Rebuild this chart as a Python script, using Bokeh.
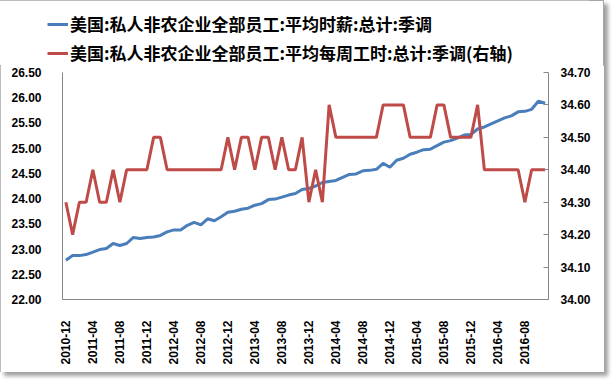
import math
from bokeh.plotting import figure
from bokeh.layouts import column
from bokeh.models import (Range1d, LinearAxis, FixedTicker,
                          NumeralTickFormatter, Legend, LegendItem)
from bokeh.embed import file_html
from bokeh.resources import INLINE

# ---------------- data ----------------
MONTHS = [f"{y}-{m:02d}" for y in range(2010, 2017) for m in range(1, 13)]
MONTHS = MONTHS[MONTHS.index("2010-12"):MONTHS.index("2016-11") + 1]

TICK_LABELS = ["2010-12", "2011-04", "2011-08", "2011-12", "2012-04", "2012-08",
               "2012-12", "2013-04", "2013-08", "2013-12", "2014-04", "2014-08",
               "2014-12", "2015-04", "2015-08", "2015-12", "2016-04", "2016-08"]

WAGE = [22.78, 22.87, 22.87, 22.89, 22.94, 22.99, 23.01, 23.11, 23.07, 23.11,
        23.23, 23.21, 23.23, 23.24, 23.27, 23.34, 23.38, 23.38, 23.47, 23.53,
        23.48, 23.60, 23.56, 23.64, 23.73, 23.75, 23.79, 23.81, 23.87, 23.90,
        23.98, 23.99, 24.03, 24.07, 24.10, 24.18, 24.20, 24.25, 24.32, 24.34,
        24.36, 24.42, 24.48, 24.49, 24.55, 24.56, 24.58, 24.70, 24.62, 24.76,
        24.80, 24.88, 24.92, 24.97, 24.98, 25.05, 25.12, 25.15, 25.20, 25.26,
        25.27, 25.38, 25.42, 25.48, 25.54, 25.60, 25.64, 25.72, 25.73, 25.77,
        25.93, 25.89]

HOURS = [34.3, 34.2, 34.3, 34.3, 34.4, 34.3, 34.3, 34.4, 34.3, 34.4,
         34.4, 34.4, 34.4, 34.5, 34.5, 34.4, 34.4, 34.4, 34.4, 34.4,
         34.4, 34.4, 34.4, 34.4, 34.5, 34.4, 34.5, 34.5, 34.4, 34.5,
         34.5, 34.4, 34.5, 34.4, 34.4, 34.5, 34.3, 34.4, 34.3, 34.6,
         34.5, 34.5, 34.5, 34.5, 34.5, 34.5, 34.5, 34.6, 34.6, 34.6,
         34.6, 34.5, 34.5, 34.5, 34.5, 34.6, 34.6, 34.5, 34.5, 34.5,
         34.5, 34.6, 34.4, 34.4, 34.4, 34.4, 34.4, 34.4, 34.3, 34.4,
         34.4, 34.4]

LEFT_TICKS = [22.0, 22.5, 23.0, 23.5, 24.0, 24.5, 25.0, 25.5, 26.0, 26.5]
RIGHT_TICKS = [34.0, 34.1, 34.2, 34.3, 34.4, 34.5, 34.6, 34.7]

LABEL_WAGE = "美国:私人非农企业全部员工:平均时薪:总计:季调"
LABEL_HOURS = "美国:私人非农企业全部员工:平均每周工时:总计:季调(右轴)"

# category positions (one slot per month)
X = list(range(len(MONTHS)))
TICK_POS = [MONTHS.index(t) for t in TICK_LABELS]

# ---------------- styles ----------------
BLUE = "#4A7EBB"
RED = "#BE4B48"
AXIS_GRAY = "#868686"
TICK_FONT = "Liberation Sans"
CJK_FONT = "Noto Sans CJK SC"
TICK_SIZE = "12px"

# ---------------- main chart ----------------
p = figure(x_range=Range1d(-0.5, len(MONTHS) - 0.5), y_range=Range1d(22.0, 26.5),
           width=604, height=307, output_backend="svg", toolbar_location=None,
           min_border_left=62, min_border_right=56, min_border_top=7,
           min_border_bottom=73)
p.xgrid.visible = False
p.ygrid.visible = False
p.outline_line_color = None
p.background_fill_color = "white"
p.border_fill_color = "white"

p.extra_y_ranges = {"hours": Range1d(34.0, 34.7)}

r1 = p.line(X, WAGE, line_color=BLUE, line_width=3)
r2 = p.line(X, HOURS, y_range_name="hours", line_color=RED, line_width=3)

# x axis
xa = p.xaxis[0]
xa.ticker = FixedTicker(ticks=TICK_POS)
xa.major_label_overrides = {pos: lab for pos, lab in zip(TICK_POS, TICK_LABELS)}
xa.axis_line_color = AXIS_GRAY
xa.major_tick_line_color = None
xa.minor_tick_line_color = None
xa.major_label_orientation = math.pi / 2
xa.major_label_text_font = TICK_FONT
xa.major_label_text_font_style = "bold"
xa.major_label_text_font_size = TICK_SIZE
xa.major_label_text_color = "black"
xa.major_label_standoff = 15

# left axis
ya = p.yaxis[0]
ya.ticker = FixedTicker(ticks=LEFT_TICKS)
ya.formatter = NumeralTickFormatter(format="0.00")
ya.axis_line_color = AXIS_GRAY
ya.major_tick_line_color = None
ya.minor_tick_line_color = None
ya.major_label_text_font = TICK_FONT
ya.major_label_text_font_style = "bold"
ya.major_label_text_font_size = TICK_SIZE
ya.major_label_text_color = "black"
ya.major_label_standoff = 15

# right axis
ra = LinearAxis(y_range_name="hours", ticker=FixedTicker(ticks=RIGHT_TICKS),
                formatter=NumeralTickFormatter(format="0.00"))
ra.axis_line_color = AXIS_GRAY
ra.major_tick_line_color = AXIS_GRAY
ra.major_tick_in = 5
ra.major_tick_out = 0
ra.minor_tick_line_color = None
ra.major_label_text_font = TICK_FONT
ra.major_label_text_font_style = "bold"
ra.major_label_text_font_size = TICK_SIZE
ra.major_label_text_color = "black"
ra.major_label_standoff = 12
p.add_layout(ra, "right")

# ---------------- legend strip ----------------
lg = figure(width=604, height=65, output_backend="svg", toolbar_location=None,
            x_range=Range1d(-0.5, len(MONTHS) - 0.5), y_range=Range1d(0, 1),
            x_axis_location=None, y_axis_location=None,
            min_border_left=47, min_border_right=0, min_border_top=11,
            min_border_bottom=0, styles={"margin-left": "-15px"})
lg.grid.visible = False
lg.outline_line_color = None
lg.background_fill_color = "white"
lg.border_fill_color = "white"
# same series (outside this strip's y range, so only their legend keys show)
k1 = lg.line(X, WAGE, line_color=BLUE, line_width=3)
k2 = lg.line(X, HOURS, line_color=RED, line_width=3)

legend = Legend(items=[LegendItem(label=LABEL_WAGE, renderers=[k1]),
                       LegendItem(label=LABEL_HOURS, renderers=[k2])],
                location="top_left", orientation="vertical",
                border_line_color=None, background_fill_alpha=0,
                padding=0, margin=0, spacing=4,
                glyph_width=21, glyph_height=22, label_height=22,
                label_standoff=2, label_text_font=CJK_FONT,
                label_text_font_style="bold", label_text_font_size="17px",
                label_text_color="black")
lg.add_layout(legend)

page = column(lg, p, spacing=0,
              styles={"outline": "1px solid #A6A6A6", "outline-offset": "-1px",
                      "box-shadow": "4px 4px 4px #A0A0A0"})

open("out.html", "w").write(file_html(page, INLINE))
